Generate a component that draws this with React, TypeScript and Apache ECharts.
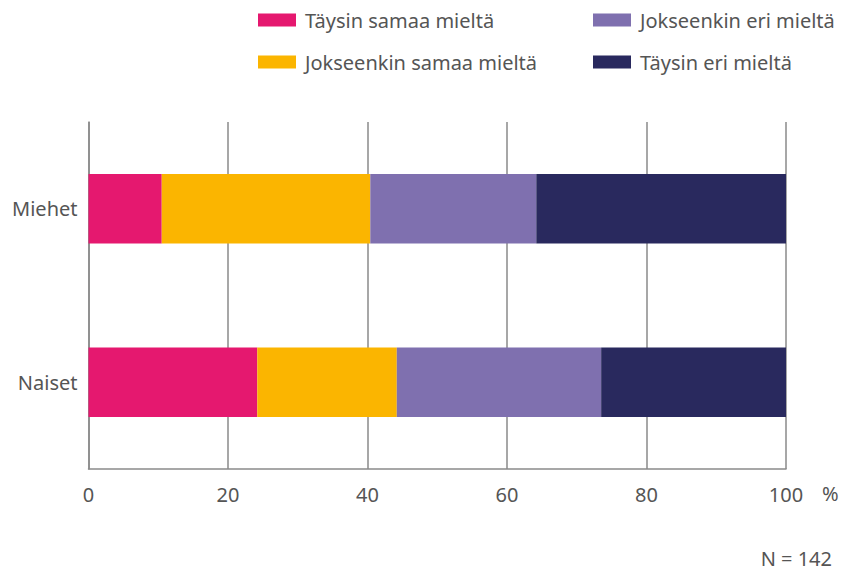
import React, { useEffect, useRef } from "react";
import * as echarts from "echarts";

const categories = ["Miehet", "Naiset"];
const seriesNames = [
  "Täysin samaa mieltä",
  "Jokseenkin samaa mieltä",
  "Jokseenkin eri mieltä",
  "Täysin eri mieltä",
];
const taysinSamaa = [10.5, 24.2];
const jokseenkinSamaa = [29.9, 20.0];
const jokseenkinEri = [23.8, 29.3];
const taysinEri = [35.8, 26.5];
const colors = ["#E5186F", "#FBB500", "#7F70AF", "#29295E"];
const unitLabel = "%";
const noteText = "N = 142";

const FONT = "'Noto Sans', sans-serif";
const TEXT_COLOR = "#555555";
const LINE_COLOR = "#8a8a8a";
const FS = 20;

export default function App() {
  const ref = useRef<HTMLDivElement>(null);
  useEffect(() => {
    if (!ref.current) return;
    const chart = echarts.init(ref.current, undefined, { renderer: "svg" });
    const values = [taysinSamaa, jokseenkinSamaa, jokseenkinEri, taysinEri];
    const legendCommon = {
      orient: "vertical",
      itemWidth: 38,
      itemHeight: 13,
      itemGap: 20,
      icon: "rect",
      textStyle: { fontFamily: FONT, fontSize: FS, color: TEXT_COLOR, lineHeight: 22, padding: [0, 0, 0, 4] },
      selectedMode: false,
      padding: 0,
    };
    chart.setOption({
      animation: false,
      color: colors,
      textStyle: { fontFamily: FONT },
      legend: [
        { ...legendCommon, left: 258, top: 9, data: [seriesNames[0], seriesNames[1]] },
        { ...legendCommon, left: 593, top: 9, data: [seriesNames[2], seriesNames[3]] },
      ],
      grid: { left: 88.5, right: 64, top: 122, bottom: 105, containLabel: false },
      xAxis: {
        type: "value",
        min: 0,
        max: 100,
        interval: 20,
        axisLine: { show: true, lineStyle: { color: LINE_COLOR, width: 1.5 } },
        axisTick: { show: false },
        splitLine: { show: true, lineStyle: { color: LINE_COLOR, width: 1.5 } },
        axisLabel: { fontFamily: FONT, fontSize: FS, color: TEXT_COLOR, margin: 15 },
      },
      yAxis: {
        type: "category",
        data: categories,
        inverse: true,
        axisLine: { show: true, lineStyle: { color: LINE_COLOR, width: 1.5 } },
        axisTick: { show: false },
        axisLabel: { fontFamily: FONT, fontSize: FS, color: TEXT_COLOR, margin: 11 },
      },
      series: seriesNames.map((name, i) => ({
        name,
        type: "bar",
        stack: "total",
        barWidth: "40%",
        data: values[i],
        itemStyle: { color: colors[i] },
      })),
      graphic: [
        {
          type: "text",
          left: 822,
          top: 483,
          style: { text: unitLabel, fontFamily: FONT, fontSize: FS, fill: TEXT_COLOR },
        },
        {
          type: "text",
          right: 18,
          top: 548,
          style: { text: noteText, fontFamily: FONT, fontSize: FS, fill: TEXT_COLOR },
        },
      ],
    });
    return () => chart.dispose();
  }, []);
  return (
    <div
      ref={ref}
      style={{ position: "absolute", left: 0, top: 0, width: 850, height: 574 }}
    />
  );
}
